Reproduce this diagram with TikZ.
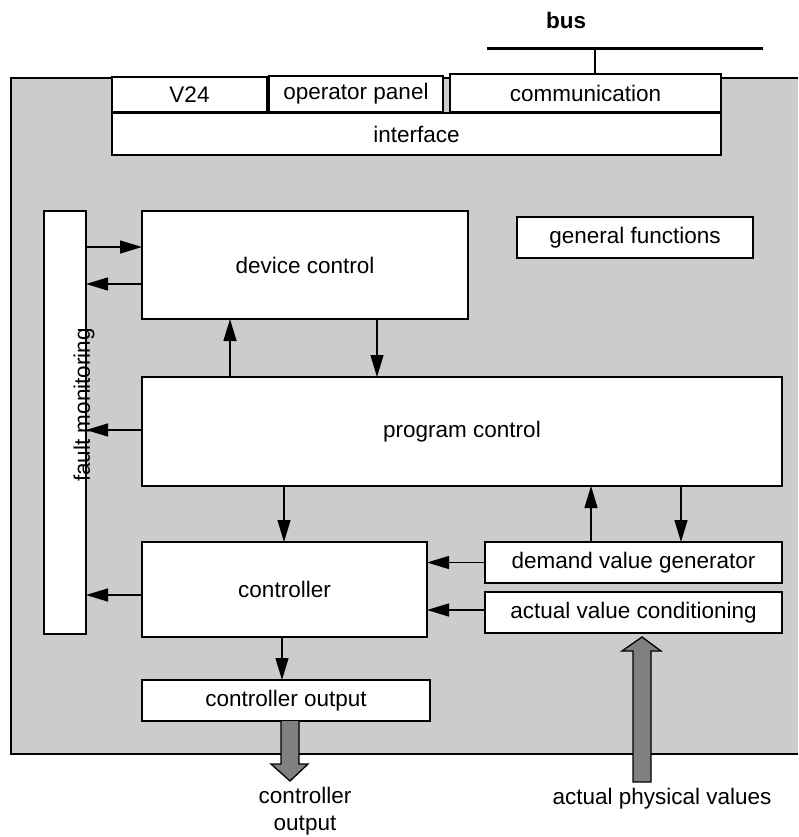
\documentclass[tikz,border=0pt]{standalone}
\usepackage{fontspec}
\setmainfont{Liberation Sans}
\usetikzlibrary{arrows.meta}
\definecolor{bggray}{HTML}{CCCCCC}
\definecolor{arrgray}{HTML}{808080}
\begin{document}
\begin{tikzpicture}[x=1pt,y=-1pt,
  font=\fontsize{22.5}{27}\selectfont,
  box/.style={draw=black,fill=white,line width=1.3pt,inner sep=0pt,outer sep=0pt},
  arr/.style={line width=1.3pt,-{Triangle[length=22pt,width=13pt]}},
  fat/.style={draw=black,fill=arrgray,line width=1.3pt,line join=miter}]
\useasboundingbox[fill=white] (0,0) rectangle (798,837);
% frame
\fill[bggray] (11,78) rectangle (798,754);
\draw[line width=1.5pt] (798,78) -- (11,78) -- (11,754) -- (798,754);
% bus
\node[font=\fontsize{22.5}{27}\selectfont\bfseries] (buslabel) at (566,20) {bus};
\coordinate (busL) at (487,49);
\coordinate (busR) at (763,49);
\coordinate (busT) at (595,49);
\draw[line width=3pt] (busL) -- (busR);
% top boxes
\node[box,minimum width=155pt,minimum height=35pt] (v24) at (189.5,94.5) {V24};
\node[box,minimum width=174pt,minimum height=36pt] (op) at (356,94) {operator panel};
\node[box,minimum width=271pt,minimum height=38pt] (comm) at (585.5,93) {communication};
\node[box,minimum width=609pt,minimum height=42pt] (iface) at (416.5,134) {interface};
\draw[line width=2.5pt] (busT) -- (busT |- comm.north);
% main boxes
\node[box,minimum width=42pt,minimum height=423pt] (fault) at (65,422.5) {};
\node[rotate=90] (faultlabel) at (84,405) {fault monitoring};
\node[box,minimum width=326pt,minimum height=108pt] (dev) at (305,265) {device control};
\node[box,minimum width=236pt,minimum height=41pt] (gen) at (635,237.5) {general functions};
\node[box,minimum width=640pt,minimum height=109pt] (prog) at (462,431.5) {program control};
\node[box,minimum width=285pt,minimum height=95pt] (ctrl) at (284.5,589.5) {controller};
\node[box,minimum width=297pt,minimum height=41pt] (dem) at (633.5,562.5) {demand value generator};
\node[box,minimum width=297pt,minimum height=41pt] (act) at (633.5,612.5) {actual value conditioning};
\node[box,minimum width=288pt,minimum height=41pt] (cout) at (286,700.5) {controller output};
% connectors
\draw[arr] (fault.east |- 0,247) -- (dev.west |- 0,247);
\draw[arr] (dev.west |- 0,284) -- (fault.east |- 0,284);
\draw[arr] (prog.north -| 230,0) -- (dev.south -| 230,0);
\draw[arr] (dev.south -| 377,0) -- (prog.north -| 377,0);
\draw[arr] (prog.west |- 0,430) -- (fault.east |- 0,430);
\draw[arr] (prog.south -| 284,0) -- (ctrl.north -| 284,0);
\draw[arr] (ctrl.west |- 0,595) -- (fault.east |- 0,595);
\draw[arr] (dem.north -| 591,0) -- (prog.south -| 591,0);
\draw[arr] (prog.south -| 681,0) -- (dem.north -| 681,0);
\draw[arr] (dem.west) -- (ctrl.east |- dem.west);
\draw[arr] (act.west |- 0,610) -- (ctrl.east |- 0,610);
\draw[arr] (ctrl.south -| 282,0) -- (cout.north -| 282,0);
% fat arrows
\draw[fat] (cout.south -| 281,0) -- (281,764) -- (271,764) -- (290,781) -- (308,764) -- (299,764) -- (cout.south -| 299,0);
\draw[fat] (633,782) -- (633,651) -- (622,651) -- (642,637) -- (661,651) -- (651,651) -- (651,782) -- cycle;
% labels
\node[align=center] (coutlabel) at (305,811) {controller\\output};
\node (actlabel) at (662,799) {actual physical values};
\end{tikzpicture}
\end{document}
